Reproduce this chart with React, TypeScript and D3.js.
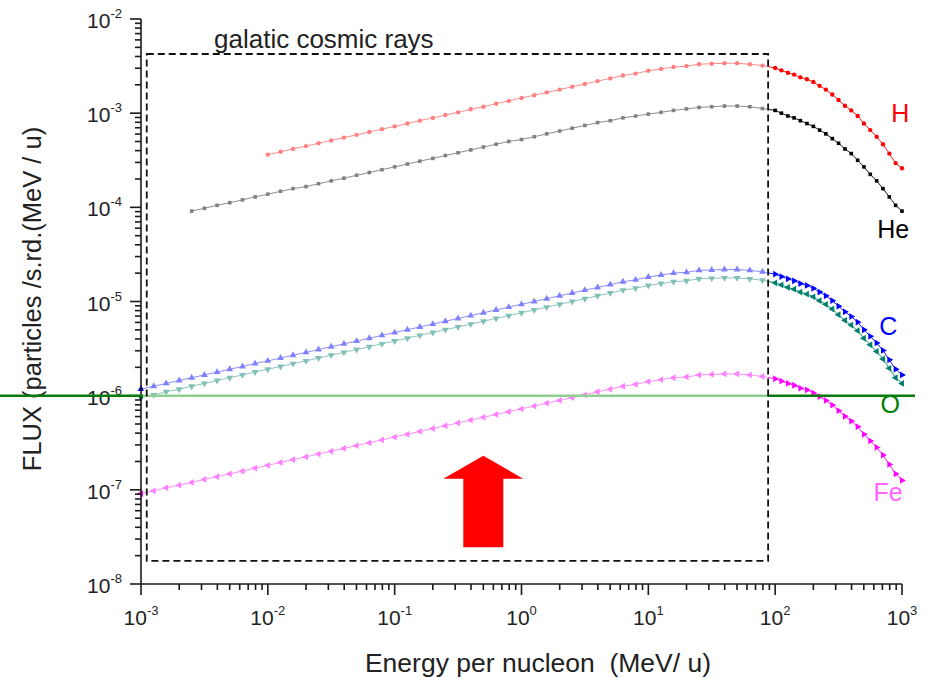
import React from 'react';
import * as d3 from 'd3';

// Energy per nucleon (MeV/u) grid shared by all series
const energy = [
  1e-3, 1.26e-3, 1.58e-3, 2.0e-3, 2.51e-3, 3.16e-3, 3.98e-3, 5.01e-3, 6.31e-3, 7.94e-3,
  1e-2, 1.26e-2, 1.58e-2, 2.0e-2, 2.51e-2, 3.16e-2, 3.98e-2, 5.01e-2, 6.31e-2, 7.94e-2,
  0.1, 0.126, 0.158, 0.2, 0.251, 0.316, 0.398, 0.501, 0.631, 0.794,
  1, 1.26, 1.58, 2.0, 2.51, 3.16, 3.98, 5.01, 6.31, 7.94,
  10, 12.6, 15.8, 20, 25.1, 31.6, 39.8, 50.1, 63.1, 79.4,
  100, 112, 126, 141, 158, 178, 200, 224, 251, 282, 316, 355, 398, 447, 501, 562, 631, 708, 794, 891, 1000,
];

// Flux values (aligned to the END of the energy grid)
const fluxH = [
  3.63e-4, 3.89e-4, 4.17e-4, 4.47e-4, 4.79e-4, 5.13e-4, 5.5e-4, 5.89e-4, 6.31e-4, 6.76e-4,
  7.24e-4, 7.76e-4, 8.32e-4, 8.91e-4, 9.55e-4, 1.02e-3, 1.1e-3, 1.17e-3, 1.26e-3, 1.35e-3,
  1.45e-3, 1.55e-3, 1.66e-3, 1.78e-3, 1.91e-3, 2.04e-3, 2.19e-3, 2.34e-3, 2.51e-3, 2.63e-3,
  2.82e-3, 2.95e-3, 3.09e-3, 3.16e-3, 3.31e-3, 3.35e-3, 3.39e-3, 3.39e-3, 3.31e-3, 3.2e-3,
  3.02e-3,
  2.85e-3, 2.69e-3, 2.57e-3, 2.4e-3, 2.29e-3, 2.14e-3, 1.95e-3, 1.78e-3, 1.58e-3, 1.38e-3,
  1.2e-3, 1.07e-3, 9.33e-4, 7.76e-4, 6.61e-4, 5.62e-4, 4.68e-4, 3.72e-4, 2.95e-4, 2.6e-4,
];
const fluxHe = [
  9.12e-5, 9.77e-5, 1.05e-4, 1.12e-4, 1.2e-4, 1.29e-4, 1.38e-4, 1.48e-4, 1.58e-4, 1.66e-4,
  1.78e-4, 1.91e-4, 2.04e-4, 2.19e-4, 2.34e-4, 2.51e-4, 2.69e-4, 2.88e-4, 3.09e-4, 3.31e-4,
  3.55e-4, 3.8e-4, 4.07e-4, 4.37e-4, 4.68e-4, 5.01e-4, 5.25e-4, 5.62e-4, 6.03e-4, 6.46e-4,
  6.92e-4, 7.41e-4, 7.94e-4, 8.32e-4, 8.91e-4, 9.33e-4, 9.77e-4, 1.02e-3, 1.07e-3, 1.11e-3,
  1.15e-3, 1.17e-3, 1.19e-3, 1.19e-3, 1.17e-3, 1.12e-3, 1.07e-3,
  1.0e-3, 9.33e-4, 8.91e-4, 8.32e-4, 7.76e-4, 7.24e-4, 6.61e-4, 6.03e-4, 5.37e-4, 4.79e-4,
  4.17e-4, 3.72e-4, 3.16e-4, 2.69e-4, 2.24e-4, 1.91e-4, 1.58e-4, 1.29e-4, 1.05e-4, 9.12e-5,
];
const fluxC = [
  1.175e-6, 1.26e-6, 1.35e-6, 1.45e-6, 1.55e-6, 1.66e-6, 1.78e-6, 1.91e-6, 2.04e-6, 2.19e-6,
  2.34e-6, 2.51e-6, 2.69e-6, 2.88e-6, 3.09e-6, 3.31e-6, 3.55e-6, 3.8e-6, 4.07e-6, 4.37e-6,
  4.68e-6, 5.01e-6, 5.37e-6, 5.75e-6, 6.17e-6, 6.61e-6, 7.08e-6, 7.59e-6, 8.13e-6, 8.71e-6,
  9.33e-6, 1.0e-5, 1.07e-5, 1.15e-5, 1.23e-5, 1.32e-5, 1.41e-5, 1.51e-5, 1.62e-5, 1.7e-5,
  1.82e-5, 1.91e-5, 2.0e-5, 2.04e-5, 2.14e-5, 2.16e-5, 2.19e-5, 2.19e-5, 2.14e-5, 2.07e-5,
  1.95e-5,
  1.84e-5, 1.74e-5, 1.66e-5, 1.55e-5, 1.48e-5, 1.38e-5, 1.26e-5, 1.15e-5, 1.02e-5, 8.91e-6,
  7.76e-6, 6.92e-6, 6.03e-6, 5.01e-6, 4.27e-6, 3.63e-6, 3.02e-6, 2.4e-6, 1.91e-6, 1.66e-6,
];
const fluxO = [
  9.55e-7, 1.02e-6, 1.1e-6, 1.17e-6, 1.26e-6, 1.35e-6, 1.45e-6, 1.55e-6, 1.66e-6, 1.78e-6,
  1.91e-6, 2.04e-6, 2.19e-6, 2.34e-6, 2.51e-6, 2.69e-6, 2.88e-6, 3.09e-6, 3.31e-6, 3.55e-6,
  3.8e-6, 4.07e-6, 4.37e-6, 4.68e-6, 5.01e-6, 5.37e-6, 5.75e-6, 6.17e-6, 6.61e-6, 7.08e-6,
  7.59e-6, 8.13e-6, 8.71e-6, 9.33e-6, 1.0e-5, 1.07e-5, 1.15e-5, 1.23e-5, 1.32e-5, 1.38e-5,
  1.48e-5, 1.55e-5, 1.62e-5, 1.66e-5, 1.74e-5, 1.76e-5, 1.78e-5, 1.78e-5, 1.74e-5, 1.68e-5,
  1.58e-5,
  1.5e-5, 1.41e-5, 1.35e-5, 1.26e-5, 1.2e-5, 1.12e-5, 1.02e-5, 9.33e-6, 8.32e-6, 7.24e-6,
  6.31e-6, 5.62e-6, 4.9e-6, 4.07e-6, 3.47e-6, 2.95e-6, 2.45e-6, 1.95e-6, 1.55e-6, 1.35e-6,
];
const fluxFe = [
  9.12e-8, 9.77e-8, 1.05e-7, 1.12e-7, 1.2e-7, 1.29e-7, 1.38e-7, 1.48e-7, 1.58e-7, 1.7e-7,
  1.82e-7, 1.95e-7, 2.09e-7, 2.24e-7, 2.4e-7, 2.57e-7, 2.75e-7, 2.95e-7, 3.16e-7, 3.39e-7,
  3.63e-7, 3.89e-7, 4.17e-7, 4.47e-7, 4.79e-7, 5.13e-7, 5.5e-7, 5.89e-7, 6.31e-7, 6.76e-7,
  7.24e-7, 7.76e-7, 8.32e-7, 8.91e-7, 9.55e-7, 1.02e-6, 1.1e-6, 1.17e-6, 1.26e-6, 1.32e-6,
  1.41e-6, 1.48e-6, 1.55e-6, 1.58e-6, 1.66e-6, 1.68e-6, 1.7e-6, 1.7e-6, 1.66e-6, 1.6e-6,
  1.51e-6,
  1.43e-6, 1.35e-6, 1.29e-6, 1.2e-6, 1.15e-6, 1.07e-6, 9.77e-7, 8.91e-7, 7.94e-7, 6.92e-7,
  6.03e-7, 5.37e-7, 4.68e-7, 3.89e-7, 3.31e-7, 2.82e-7, 2.34e-7, 1.86e-7, 1.48e-7, 1.26e-7,
];

const seriesNames = ['H', 'He', 'C', 'O', 'Fe'];
const seriesFlux = [fluxH, fluxHe, fluxC, fluxO, fluxFe];
const seriesColors = ['#ff0000', '#000000', '#0000ff', '#00806c', '#ff00ff'];
const labelColors = ['#ff0000', '#000000', '#0000ff', '#008000', '#ff66ff'];
// label anchor (centre, baseline) in data coordinates
const labelPos = [
  { e: 968, f: 8.0e-4 },
  { e: 851, f: 4.7e-5 },
  { e: 778, f: 4.46e-6 },
  { e: 807, f: 6.6e-7 },
  { e: 778, f: 7.6e-8 },
];
const markerKind = ['circle', 'square', 'tri', 'tri', 'tri'];
// [inside-box rotation, outside-box rotation]
const markerRot = [[0, 0], [0, 0], [0, 90], [180, -90], [-90, 90]];

const xTickExps = [-3, -2, -1, 0, 1, 2, 3];
const yTickExps = [-2, -3, -4, -5, -6, -7, -8];

const boxE = [1.11e-3, 88];
const boxF = [4.25e-3, 1.76e-8];
const refLineFlux = 1e-6;
const arrowE = 0.5;
const arrowTipF = 2.3e-7;
const arrowBaseF = 2.45e-8;

const FONT = 'Liberation Sans, Arial, Helvetica, sans-serif';

export default function App() {
  const W = 926;
  const Hh = 678;
  const x = d3.scaleLog().domain([1e-3, 1e3]).range([141, 902]);
  const y = d3.scaleLog().domain([1e-8, 1e-2]).range([584, 19]);

  const isMajor = (t: number) => Math.abs(Math.log10(t) - Math.round(Math.log10(t))) < 1e-6;
  const xTicks = x.ticks();
  const yTicks = y.ticks();

  const line = d3
    .line<[number, number]>()
    .x((d) => x(d[0]))
    .y((d) => y(d[1]));

  const symbolPath = (kind: string) => {
    if (kind === 'circle') return d3.symbol(d3.symbolCircle, 15)()!;
    if (kind === 'square') return d3.symbol(d3.symbolSquare, 13)()!;
    return d3.symbol(d3.symbolTriangle, 20)()!;
  };

  const boxX0 = x(boxE[0]);
  const boxX1 = x(boxE[1]);
  const boxY0 = y(boxF[0]);
  const boxY1 = y(boxF[1]);
  const gy = y(refLineFlux);

  const ax = x(arrowE);
  const aTip = y(arrowTipF);
  const aBase = y(arrowBaseF);
  const headH = 23;
  const headW = 40;
  const shaftW = 20;
  const arrowPts = [
    [ax, aTip],
    [ax + headW, aTip + headH],
    [ax + shaftW, aTip + headH],
    [ax + shaftW, aBase],
    [ax - shaftW, aBase],
    [ax - shaftW, aTip + headH],
    [ax - headW, aTip + headH],
  ]
    .map((p) => p.join(','))
    .join(' ');

  return (
    <svg
      width={W}
      height={Hh}
      style={{ position: 'absolute', left: 0, top: 0, background: '#fff' }}
      fontFamily={FONT}
    >
      <rect x={0} y={0} width={W} height={Hh} fill="#fff" />
      {/* data */}
      {seriesFlux.map((flux, si) => {
        const es = energy.slice(energy.length - flux.length);
        const pts: [number, number][] = flux.map((f, i) => [es[i], f]);
        const sp = symbolPath(markerKind[si]);
        return (
          <g key={seriesNames[si]}>
            <path d={line(pts)!} fill="none" stroke={seriesColors[si]} strokeWidth={0.9} />
            {pts.map((p, i) => {
              const rot = p[0] > boxE[1] ? markerRot[si][1] : markerRot[si][0];
              return (
                <path
                  key={i}
                  d={sp}
                  fill={seriesColors[si]}
                  transform={`translate(${x(p[0])},${y(p[1])}) rotate(${rot})`}
                />
              );
            })}
          </g>
        );
      })}
      {/* fading overlay inside the GCR box */}
      <rect x={x(1e-3) + 2} y={0} width={boxX1 - x(1e-3) - 2} height={y(1e-8) - 1} fill="#fff" opacity={0.5} />

      {/* axes */}
      <g stroke="#1a1a1a" strokeWidth={1.6}>
        <line x1={x(1e-3)} x2={x(1e-3)} y1={y(1e-2)} y2={y(1e-8)} />
        <line x1={x(1e-3)} x2={x(1e3)} y1={y(1e-8)} y2={y(1e-8)} />
        {yTicks.map((t, i) => (
          <line key={'yt' + i} x1={x(1e-3)} x2={x(1e-3) - (isMajor(t) ? 11 : 6)} y1={y(t)} y2={y(t)} />
        ))}
        {xTicks.map((t, i) => (
          <line key={'xt' + i} x1={x(t)} x2={x(t)} y1={y(1e-8)} y2={y(1e-8) + (isMajor(t) ? 11 : 6)} />
        ))}
      </g>
      {yTickExps.map((e) => (
        <text key={'yl' + e} x={x(1e-3) - 19} y={y(Math.pow(10, e)) + 9} textAnchor="end" fontSize={21} fill="#222">
          10
          <tspan fontSize={13} dy={-10}>
            {e}
          </tspan>
        </text>
      ))}
      {xTickExps.map((e) => (
        <text key={'xl' + e} x={x(Math.pow(10, e))} y={y(1e-8) + 41} textAnchor="middle" fontSize={21} fill="#222">
          10
          <tspan fontSize={13} dy={-10}>
            {e}
          </tspan>
        </text>
      ))}
      <text x={538} y={672} textAnchor="middle" fontSize={26.5} fill="#222" style={{ whiteSpace: 'pre' }}>
        {'Energy per nucleon  (MeV/ u)'}
      </text>
      <text transform="translate(41,299) rotate(-90)" textAnchor="middle" fontSize={25.5} fill="#222">
        FLUX (particles /s.rd.(MeV / u)
      </text>

      {/* reference line at 1e-6 */}
      <line x1={0} x2={x(1e-3) + 2} y1={gy} y2={gy} stroke="#0a7a0a" strokeWidth={2.5} />
      <line x1={x(1e-3) + 2} x2={boxX1} y1={gy} y2={gy} stroke="#8fcf8f" strokeWidth={2.5} />
      <line x1={boxX1} x2={915} y1={gy} y2={gy} stroke="#0a7a0a" strokeWidth={2.5} />

      {/* dashed GCR box */}
      <rect
        x={boxX0}
        y={boxY0}
        width={boxX1 - boxX0}
        height={boxY1 - boxY0}
        fill="none"
        stroke="#111"
        strokeWidth={1.8}
        strokeDasharray="7,4"
      />
      <text x={214} y={48} fontSize={26} fill="#222">
        galatic cosmic rays
      </text>

      {/* series labels */}
      {seriesNames.map((n, i) => (
        <text
          key={'lab' + n}
          x={x(labelPos[i].e)}
          y={y(labelPos[i].f)}
          textAnchor="middle"
          fontSize={25}
          fill={labelColors[i]}
        >
          {n}
        </text>
      ))}

      {/* red arrow */}
      <polygon points={arrowPts} fill="#ff0000" />
    </svg>
  );
}
